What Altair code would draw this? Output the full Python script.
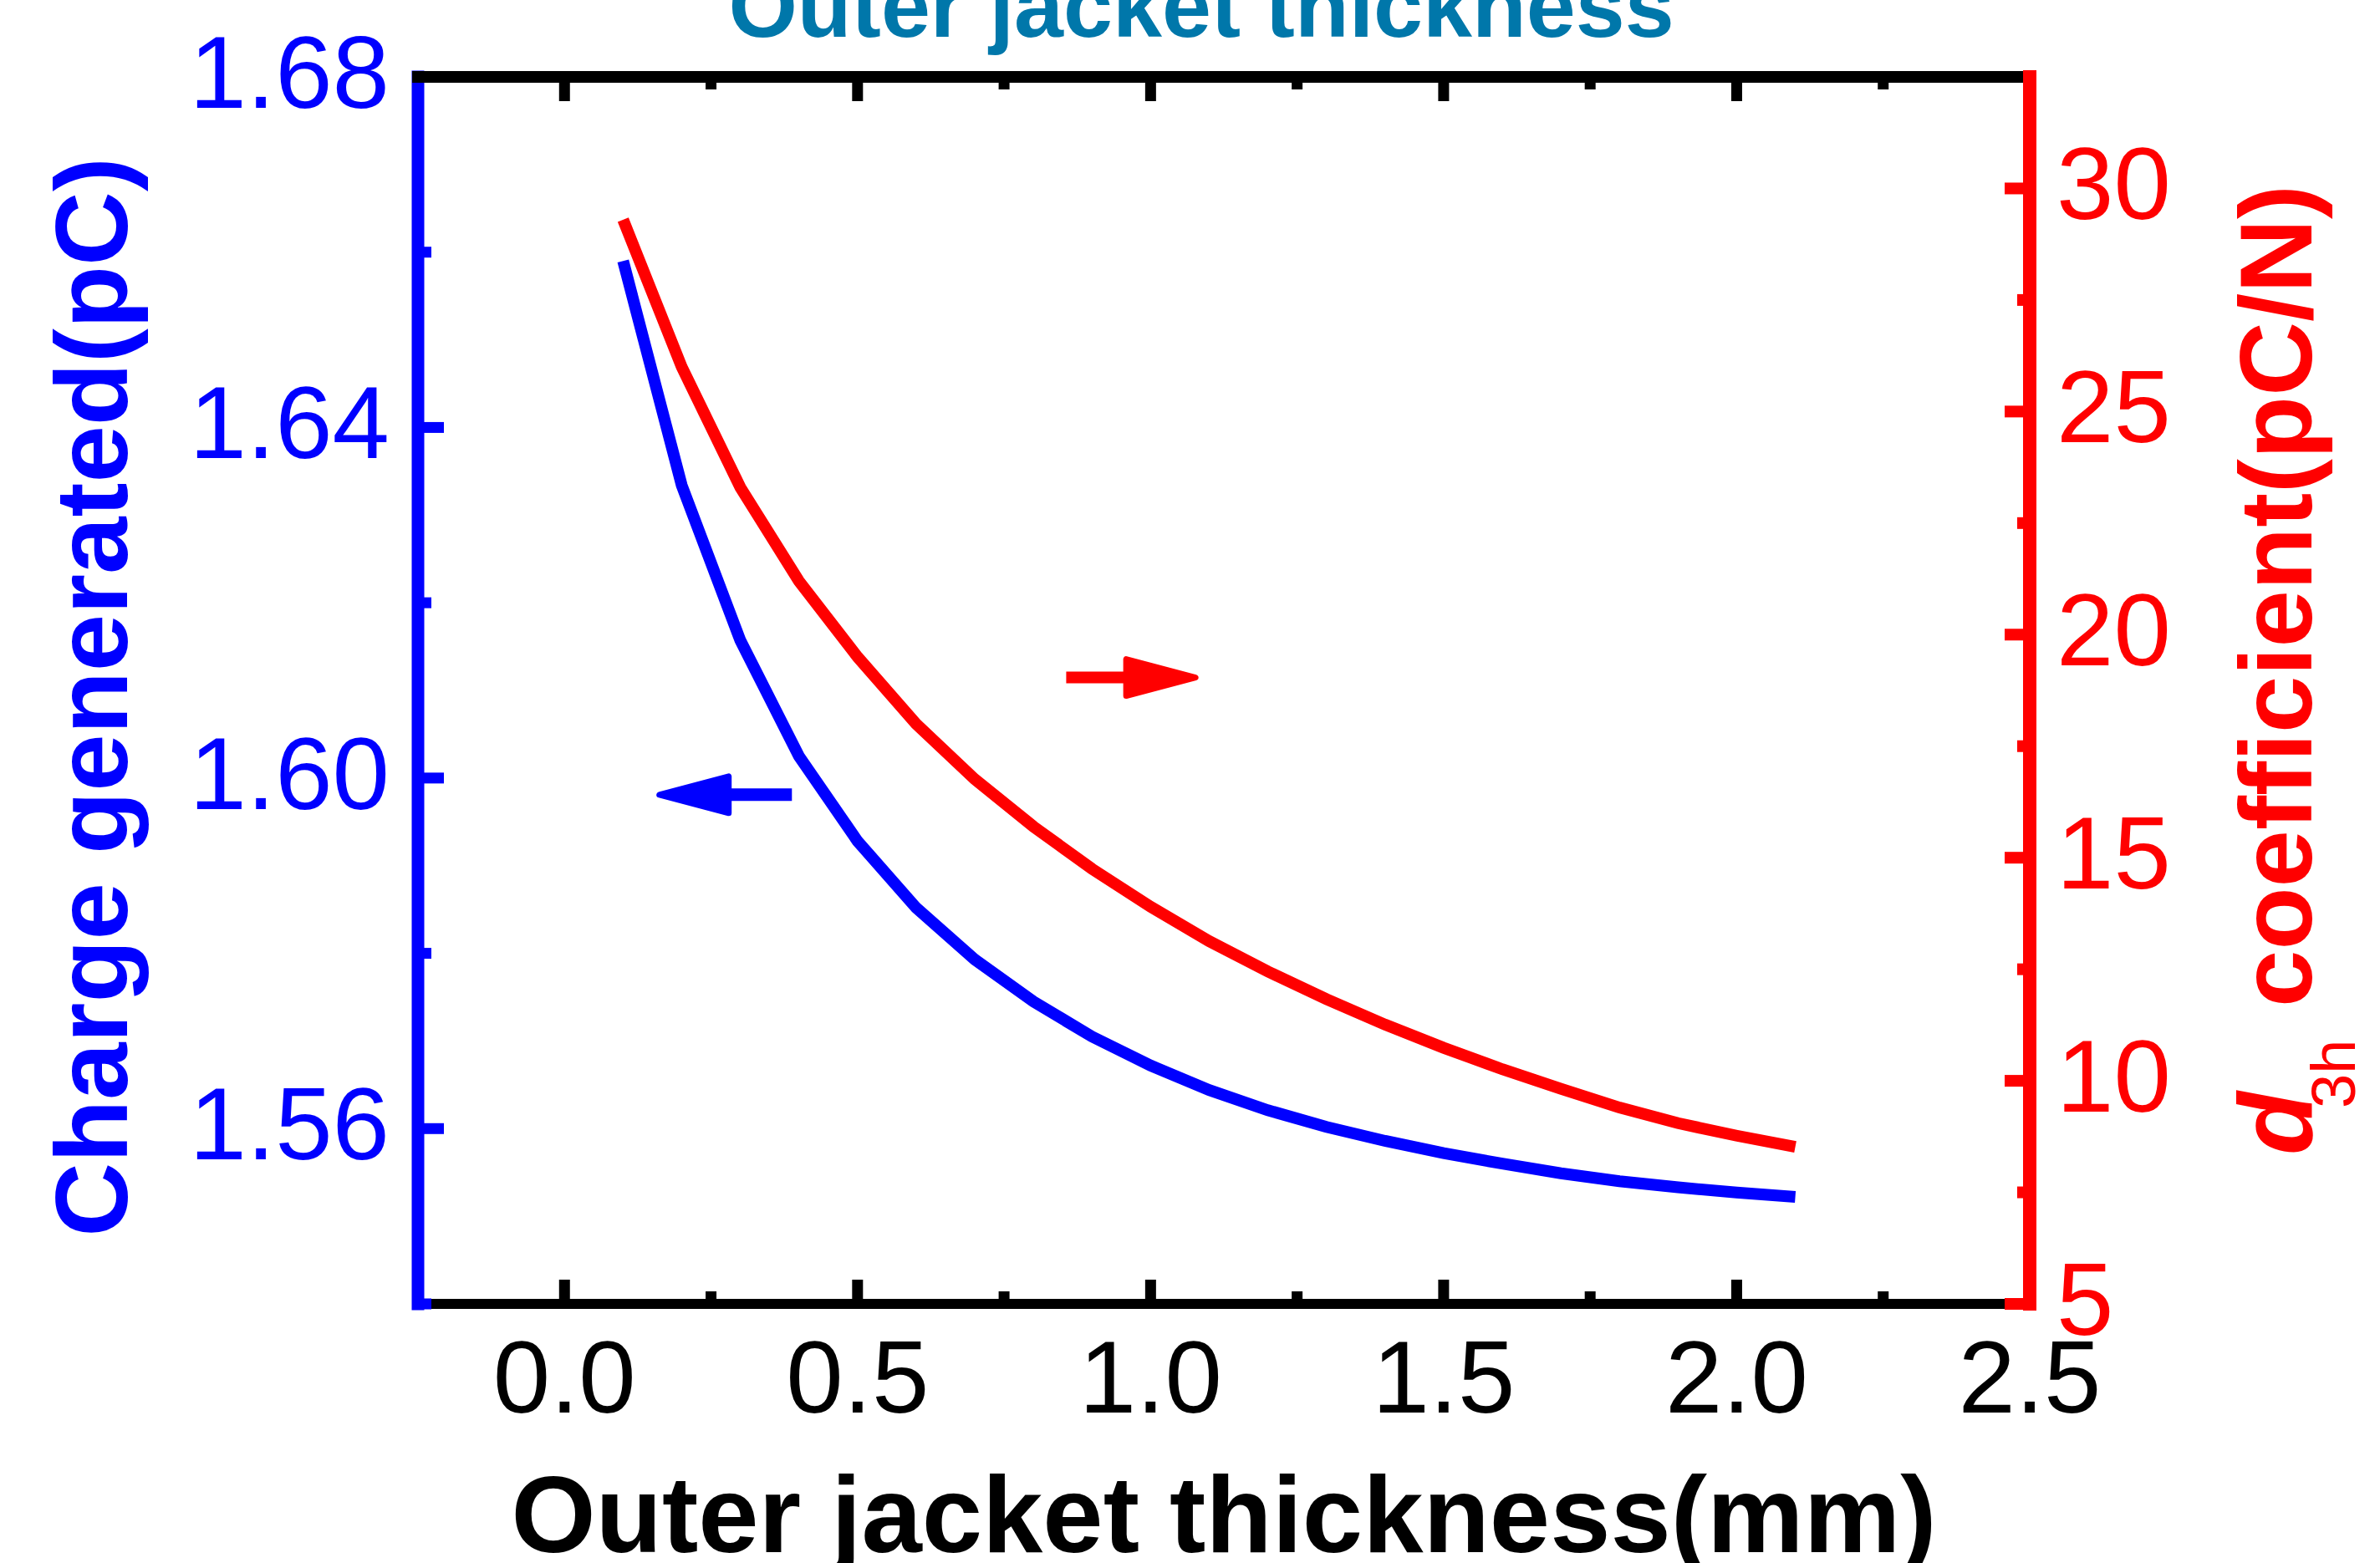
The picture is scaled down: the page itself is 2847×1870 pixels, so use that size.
import altair as alt
import pandas as pd

# ---------------- data ----------------
thickness = [0.1, 0.2, 0.3, 0.4, 0.5, 0.6, 0.7, 0.8, 0.9, 1.0, 1.1,
             1.2, 1.3, 1.4, 1.5, 1.6, 1.7, 1.8, 1.9, 2.0, 2.1]
charge = [1.6590, 1.6334, 1.6157, 1.6025, 1.5928, 1.5852, 1.5793, 1.5745,
          1.5705, 1.5672, 1.5644, 1.5621, 1.5602, 1.5586, 1.5572, 1.5560,
          1.5549, 1.5540, 1.5533, 1.5527, 1.5522]
d3h = [29.30, 26.00, 23.30, 21.20, 19.50, 18.00, 16.76, 15.70, 14.75, 13.90,
       13.13, 12.45, 11.83, 11.26, 10.74, 10.26, 9.82, 9.40, 9.05, 8.77, 8.52]

x_domain = [-0.25, 2.5]
left_domain = [1.54, 1.68]
right_domain = [5, 32.5]

x_label_values = [0.0, 0.5, 1.0, 1.5, 2.0, 2.5]
x_label_text = ["0.0", "0.5", "1.0", "1.5", "2.0", "2.5"]
x_major = [0.0, 0.5, 1.0, 1.5, 2.0]
x_minor = [0.25, 0.75, 1.25, 1.75, 2.25]
left_major = [1.56, 1.60, 1.64, 1.68]
left_label_text = ["1.56", "1.60", "1.64", "1.68"]
left_minor = [1.54, 1.58, 1.62, 1.66]
right_major = [5, 10, 15, 20, 25, 30]
right_label_text = ["5", "10", "15", "20", "25", "30"]
right_minor = [7.5, 12.5, 17.5, 22.5, 27.5]

blue_arrow_tail = [0.388]
blue_arrow_head = [0.221]
blue_arrow_y = [1.5981]
red_arrow_tail = [0.856]
red_arrow_head = [1.0175]
red_arrow_y = [19.04]

title_text = ["Outer jacket thickness"]
x_title = ["Outer jacket thickness(mm)"]
left_title = ["Charge generated(pC)"]
right_title_d = ["d"]
right_title_sub = ["3h"]
right_title_rest = ["coefficient(pC/N)"]

# ---------------- layout ----------------
W, H = 1928, 1468
FONT = "Liberation Sans"
BLUE = "#0000FF"
RED = "#FF0000"
LABEL_SIZE = 123

xs = alt.Scale(domain=x_domain, nice=False, zero=False)
ls = alt.Scale(domain=left_domain, nice=False, zero=False)
rs = alt.Scale(domain=right_domain, nice=False, zero=False)

df = pd.DataFrame({"thickness": thickness, "charge": charge, "d3h": d3h})


def vals(v):
    return pd.DataFrame({"v": v})


def one(t):
    return pd.DataFrame({"t": t})


# ---------------- left (blue) group ----------------
bottom_frame = alt.Chart(pd.DataFrame({"a": [x_domain[0]], "b": [x_domain[1]],
                                       "y": [left_domain[0]]})).mark_rule(
    color="black", strokeWidth=12).encode(
    x=alt.X("a:Q", scale=xs, axis=None), x2="b:Q",
    y=alt.Y("y:Q", scale=ls, axis=None))

left_frame = alt.Chart(pd.DataFrame({"x": [x_domain[0]], "a": [left_domain[0]],
                                     "b": [left_domain[1]]})).mark_rule(
    color=BLUE, strokeWidth=15, strokeCap="square").encode(
    x=alt.X("x:Q", scale=xs, axis=None),
    y=alt.Y("a:Q", scale=ls, axis=None), y2="b:Q")

left_major_ticks = alt.Chart(vals(left_major)).mark_rule(
    color=BLUE, strokeWidth=13).encode(
    y=alt.Y("v:Q", scale=ls, axis=None), x=alt.value(0), x2=alt.value(31))
left_minor_ticks = alt.Chart(vals(left_minor)).mark_rule(
    color=BLUE, strokeWidth=13).encode(
    y=alt.Y("v:Q", scale=ls, axis=None), x=alt.value(0), x2=alt.value(16))

bottom_major_ticks = alt.Chart(vals(x_major)).mark_rule(
    color="black", strokeWidth=13).encode(
    x=alt.X("v:Q", scale=xs, axis=None), y=alt.value(H), y2=alt.value(H - 29))
bottom_minor_ticks = alt.Chart(vals(x_minor)).mark_rule(
    color="black", strokeWidth=13).encode(
    x=alt.X("v:Q", scale=xs, axis=None), y=alt.value(H), y2=alt.value(H - 15))
top_major_ticks = alt.Chart(vals(x_major)).mark_rule(
    color="black", strokeWidth=13).encode(
    x=alt.X("v:Q", scale=xs, axis=None), y=alt.value(0), y2=alt.value(29))
top_minor_ticks = alt.Chart(vals(x_minor)).mark_rule(
    color="black", strokeWidth=13).encode(
    x=alt.X("v:Q", scale=xs, axis=None), y=alt.value(0), y2=alt.value(15))

top_frame = alt.Chart(pd.DataFrame({"a": [x_domain[0]], "b": [x_domain[1]],
                                    "y": [left_domain[1]]})).mark_rule(
    color="black", strokeWidth=14, strokeCap="square").encode(
    x=alt.X("a:Q", scale=xs, axis=None), x2="b:Q",
    y=alt.Y("y:Q", scale=ls, axis=None))

blue_line = alt.Chart(df).mark_line(color=BLUE, strokeWidth=14).encode(
    x=alt.X("thickness:Q", scale=xs, axis=None),
    y=alt.Y("charge:Q", scale=ls, axis=None))

blue_arrow_df = pd.DataFrame({"t": blue_arrow_tail, "h": blue_arrow_head,
                              "y": blue_arrow_y})
blue_shaft = alt.Chart(blue_arrow_df).mark_rule(
    color=BLUE, strokeWidth=15).encode(
    x=alt.X("t:Q", scale=xs, axis=None), x2="h:Q",
    y=alt.Y("y:Q", scale=ls, axis=None))
blue_head = alt.Chart(blue_arrow_df).mark_point(
    shape="M -1 0 L 1 -0.53 L 1 0.53 Z", size=6889, filled=True, color=BLUE,
    stroke=BLUE, strokeWidth=7, strokeJoin="round", opacity=1).encode(
    x=alt.X("h:Q", scale=xs, axis=None),
    y=alt.Y("y:Q", scale=ls, axis=None))

x_labels = alt.Chart(pd.DataFrame({"v": x_label_values, "t": x_label_text})).mark_text(
    font=FONT, fontSize=LABEL_SIZE, color="black", align="center",
    baseline="top").encode(
    x=alt.X("v:Q", scale=xs, axis=None), y=alt.value(H + 33), text="t:N")

left_labels = alt.Chart(pd.DataFrame({"v": left_major, "t": left_label_text})).mark_text(
    font=FONT, fontSize=LABEL_SIZE, color=BLUE, align="right",
    baseline="middle").encode(
    y=alt.Y("v:Q", scale=ls, axis=None), x=alt.value(-34), text="t:N")

x_title_mark = alt.Chart(one(x_title)).mark_text(
    font=FONT, fontSize=130, fontWeight="bold", color="black",
    align="center", baseline="alphabetic").encode(
    text="t:N", x=alt.value(W / 2), y=alt.value(H + 297))

left_title_mark = alt.Chart(one(left_title)).mark_text(
    font=FONT, fontSize=123, fontWeight="bold", color=BLUE, angle=270,
    align="center", baseline="alphabetic").encode(
    text="t:N", x=alt.value(-348), y=alt.value(742))

top_title = alt.Chart(one(title_text)).mark_text(
    font=FONT, fontSize=106, fontWeight="bold", color="#0077AA",
    align="center", baseline="alphabetic").encode(
    text="t:N", x=alt.value(937), y=alt.value(-48))

left_group = alt.layer(bottom_frame, left_frame, left_major_ticks,
                       left_minor_ticks, bottom_major_ticks, bottom_minor_ticks,
                       top_major_ticks, top_minor_ticks, top_frame, blue_line,
                       blue_shaft, blue_head, x_labels, left_labels,
                       x_title_mark, left_title_mark, top_title)

# ---------------- right (red) group ----------------
right_frame = alt.Chart(pd.DataFrame({"x": [x_domain[1]], "a": [right_domain[0]],
                                      "b": [right_domain[1]]})).mark_rule(
    color=RED, strokeWidth=16, strokeCap="square").encode(
    x=alt.X("x:Q", scale=xs, axis=None),
    y=alt.Y("a:Q", scale=rs, axis=None), y2="b:Q")
right_major_ticks = alt.Chart(vals(right_major)).mark_rule(
    color=RED, strokeWidth=14).encode(
    y=alt.Y("v:Q", scale=rs, axis=None), x=alt.value(W), x2=alt.value(W - 30))
right_minor_ticks = alt.Chart(vals(right_minor)).mark_rule(
    color=RED, strokeWidth=14).encode(
    y=alt.Y("v:Q", scale=rs, axis=None), x=alt.value(W), x2=alt.value(W - 15))

red_line = alt.Chart(df).mark_line(color=RED, strokeWidth=14).encode(
    x=alt.X("thickness:Q", scale=xs, axis=None),
    y=alt.Y("d3h:Q", scale=rs, axis=None))

red_arrow_df = pd.DataFrame({"t": red_arrow_tail, "h": red_arrow_head,
                             "y": red_arrow_y})
red_shaft = alt.Chart(red_arrow_df).mark_rule(
    color=RED, strokeWidth=14).encode(
    x=alt.X("t:Q", scale=xs, axis=None), x2="h:Q",
    y=alt.Y("y:Q", scale=rs, axis=None))
red_head = alt.Chart(red_arrow_df).mark_point(
    shape="M 1 0 L -1 -0.53 L -1 0.53 Z", size=6889, filled=True, color=RED,
    stroke=RED, strokeWidth=7, strokeJoin="round", opacity=1).encode(
    x=alt.X("h:Q", scale=xs, axis=None),
    y=alt.Y("y:Q", scale=rs, axis=None))

right_labels = alt.Chart(pd.DataFrame({"v": right_major, "t": right_label_text})).mark_text(
    font=FONT, fontSize=LABEL_SIZE, color=RED, align="left",
    baseline="middle").encode(
    y=alt.Y("v:Q", scale=rs, axis=None), x=alt.value(W + 32), text="t:N")

rt_d = alt.Chart(one(right_title_d)).mark_text(
    font=FONT, fontSize=124, fontWeight="bold", fontStyle="italic", color=RED,
    angle=270, align="left", baseline="alphabetic").encode(
    text="t:N", x=alt.value(2265), y=alt.value(1290))
rt_sub = alt.Chart(one(right_title_sub)).mark_text(
    font=FONT, fontSize=74, color=RED,
    angle=270, align="left", baseline="alphabetic").encode(
    text="t:N", x=alt.value(2317), y=alt.value(1234))
rt_rest = alt.Chart(one(right_title_rest)).mark_text(
    font=FONT, fontSize=123, fontWeight="bold", color=RED,
    angle=270, align="left", baseline="alphabetic").encode(
    text="t:N", x=alt.value(2265), y=alt.value(1113))

right_group = alt.layer(right_frame, right_major_ticks, right_minor_ticks,
                        red_line, red_shaft, red_head, right_labels,
                        rt_d, rt_sub, rt_rest)

chart = alt.layer(left_group, right_group).resolve_scale(
    y="independent").properties(
    width=W, height=H,
    autosize=alt.AutoSizeParams(type="none"),
    padding={"left": 500, "top": 92, "right": 419, "bottom": 310},
    background="white",
).configure_view(strokeWidth=0)

chart.save("out.html", embed_options={"renderer": "svg", "actions": False})
